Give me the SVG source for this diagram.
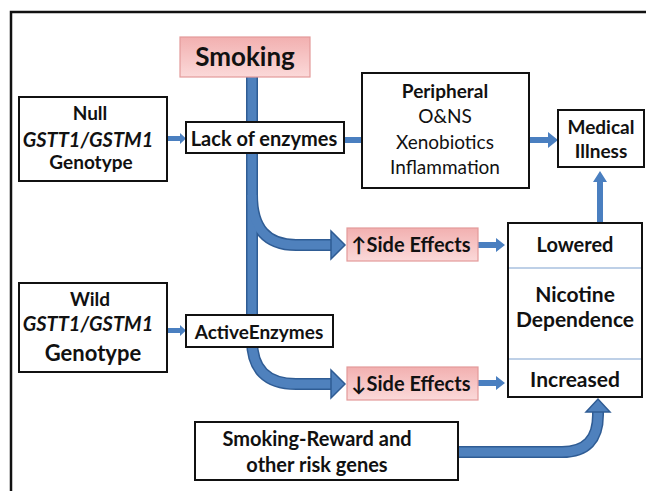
<svg xmlns="http://www.w3.org/2000/svg" width="647" height="491" viewBox="0 0 647 491">
<defs>
<linearGradient id="pink" x1="0" y1="0" x2="0" y2="1">
<stop offset="0" stop-color="#f2b0b0"/>
<stop offset="1" stop-color="#fbd9d9"/>
</linearGradient>
</defs>
<style>
text{font-family:Lato,"Liberation Sans",sans-serif;fill:#111;text-anchor:middle}
.b{font-weight:bold}
.box{fill:#fff;stroke:#111;stroke-width:2}
.pbox{fill:url(#pink);stroke:#e39a9a;stroke-width:1.2}
.po{fill:none;stroke:#2f5c94;stroke-width:12}
.pf{fill:none;stroke:#4f81bd;stroke-width:9}
.ah{fill:#4f81bd;stroke:#2f5c94;stroke-width:1.5;stroke-linejoin:miter}
.sa{fill:#4a7fc0}
.div{stroke:#a9c1df;stroke-width:1.5}
</style>
<path d="M11,491 V12 H646" fill="none" stroke="#111" stroke-width="2.5"/>

<g id="connectors">
<path class="po" d="M252,77 V340 Q252,384 296,384 H333"/>
<path class="po" d="M252,195 Q252,245 296,245 H333"/>
<path class="po" d="M458,452 H562 Q598,452 598,415 V410"/>
<path class="pf" d="M252,77 V340 Q252,384 296,384 H333"/>
<path class="pf" d="M252,195 Q252,245 296,245 H333"/>
<path class="pf" d="M458,452 H562 Q598,452 598,415 V410"/>
<polygon class="ah" points="331,231 345,245 331,259"/>
<polygon class="ah" points="331,370 345,384 331,398"/>
<polygon class="ah" points="586,412 598,399 610,412"/>
<polygon class="sa" points="152,136 180,136 180,133 186,138.5 180,144 180,141 152,141"/>
<polygon class="sa" points="152,328 180,328 180,325 186,330.5 180,336 180,333 152,333"/>
<polygon class="sa" points="343,137 363,137 363,133 372,140 363,147 363,143 343,143"/>
<polygon class="sa" points="529,137 548,137 548,132 558,140 548,148 548,143 529,143"/>
<polygon class="sa" points="478,242 496,242 496,238 505,245 496,252 496,248 478,248"/>
<polygon class="sa" points="478,380 496,380 496,376 505,383 496,390 496,386 478,386"/>
<polygon class="sa" points="597,223 597,182 593,182 600,171 607,182 603,182 603,223"/>
</g>

<g id="smoking">
<rect class="pbox" x="180" y="37" width="130" height="40"/>
<text class="b" x="245" y="66" font-size="26">Smoking</text>
</g>

<g id="null">
<rect class="box" x="19" y="97" width="148" height="84"/>
<text class="b" x="90" y="120" font-size="19">Null</text>
<text class="b" x="88" y="147" font-size="20" font-style="italic">GSTT1/GSTM1</text>
<text class="b" x="91" y="169" font-size="19">Genotype</text>
</g>

<g id="lack">
<rect class="box" x="186" y="122" width="158" height="31"/>
<text class="b" x="264" y="146" font-size="20">Lack of enzymes</text>
</g>

<g id="peripheral">
<rect class="box" x="362" y="73" width="167" height="115"/>
<text class="b" x="445" y="98" font-size="19">Peripheral</text>
<text x="445" y="123" font-size="19">O&amp;NS</text>
<text x="445" y="149" font-size="19">Xenobiotics</text>
<text x="445" y="174" font-size="19">Inflammation</text>
</g>

<g id="medical">
<rect class="box" x="558" y="110" width="86" height="57"/>
<text class="b" x="601" y="134" font-size="19">Medical</text>
<text class="b" x="601" y="158" font-size="19">Illness</text>
</g>

<g id="side-up">
<rect class="pbox" x="347" y="228" width="131" height="33"/>
<text class="b" x="411" y="252" font-size="20">↑Side Effects</text>
</g>

<g id="side-down">
<rect class="pbox" x="347" y="367" width="131" height="33"/>
<text class="b" x="411" y="391" font-size="20">↓Side Effects</text>
</g>

<g id="nicotine">
<rect class="box" x="508" y="223" width="134" height="174"/>
<line class="div" x1="509" y1="268" x2="641" y2="268"/>
<line class="div" x1="509" y1="359" x2="641" y2="359"/>
<text class="b" x="575" y="252" font-size="20">Lowered</text>
<text class="b" x="575" y="302" font-size="21">Nicotine</text>
<text class="b" x="575" y="327" font-size="21">Dependence</text>
<text class="b" x="575" y="387" font-size="21">Increased</text>
</g>

<g id="wild">
<rect class="box" x="19" y="283" width="148" height="89"/>
<text class="b" x="90" y="306" font-size="19">Wild</text>
<text class="b" x="88" y="331" font-size="20" font-style="italic">GSTT1/GSTM1</text>
<text class="b" x="93" y="361" font-size="22">Genotype</text>
</g>

<g id="active">
<rect class="box" x="186" y="315" width="147" height="32"/>
<text class="b" x="259" y="339" font-size="19">ActiveEnzymes</text>
</g>

<g id="reward">
<rect class="box" x="195" y="422" width="263" height="58"/>
<text class="b" x="317" y="446" font-size="20">Smoking-Reward and</text>
<text class="b" x="317" y="472" font-size="20">other risk genes</text>
</g>
</svg>
